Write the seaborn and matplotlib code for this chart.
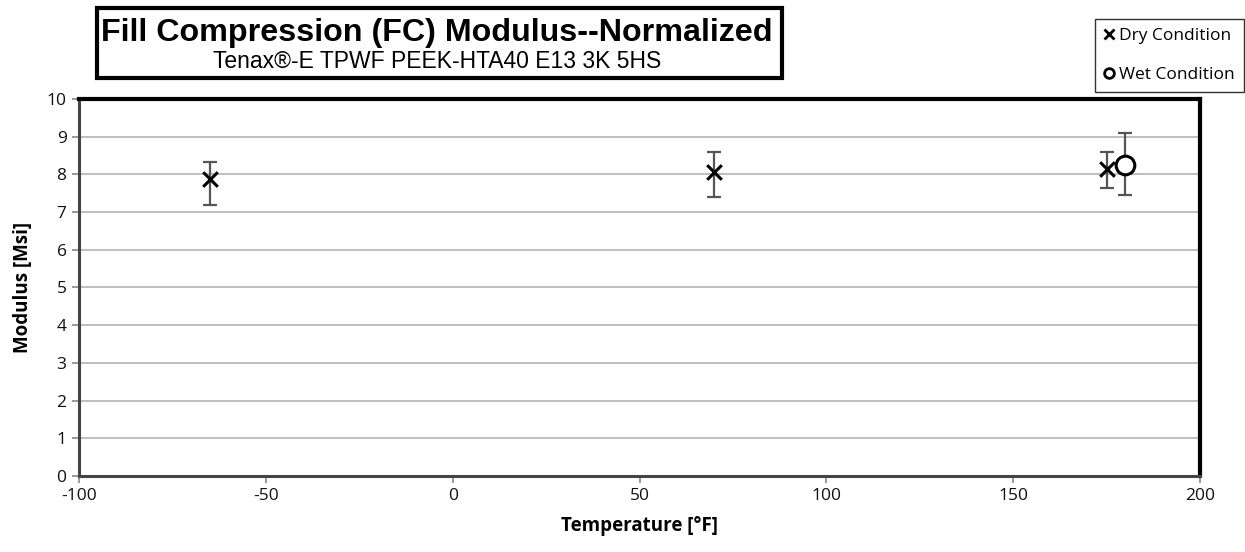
import matplotlib
matplotlib.use("Agg")
import matplotlib.pyplot as plt
import seaborn as sns
import pandas as pd
import numpy as np

# data
temps_dry = [-65, 70, 175]
mod_dry = [7.88, 8.07, 8.14]
dry_low = [7.19, 7.39, 7.65]
dry_high = [8.34, 8.60, 8.59]

temps_wet = [180]
mod_wet = [8.25]
wet_low = [7.45]
wet_high = [9.09]

x_ticks = [-100, -50, 0, 50, 100, 150, 200]
y_ticks = list(range(0, 11))

sns.set_theme(style='white')
plt.rcParams['font.family'] = ['Open Sans', 'DejaVu Sans']
plt.rcParams['axes.unicode_minus'] = False
plt.rcParams['text.color'] = 'black'
plt.rcParams['axes.labelcolor'] = 'black'

df = pd.concat([
    pd.DataFrame({'temp': temps_dry, 'mod': mod_dry, 'cond': 'Dry Condition'}),
    pd.DataFrame({'temp': temps_wet, 'mod': mod_wet, 'cond': 'Wet Condition'}),
])

fig = plt.figure(figsize=(12.45, 5.52), dpi=100)
ax = fig.add_axes([0.0635, 0.1377, 0.9005, 0.683])

for y in y_ticks[1:]:
    ax.axhline(y, color='#b4b4b4', lw=1.2, zorder=0)

# error bars (min/max)
err_dry = [np.array(mod_dry) - np.array(dry_low), np.array(dry_high) - np.array(mod_dry)]
err_wet = [np.array(mod_wet) - np.array(wet_low), np.array(wet_high) - np.array(mod_wet)]
ax.errorbar(temps_dry, mod_dry, yerr=err_dry, fmt='none', ecolor='#555555',
            elinewidth=1.6, capsize=5, capthick=1.6, zorder=2)
ax.errorbar(temps_wet, mod_wet, yerr=err_wet, fmt='none', ecolor='#555555',
            elinewidth=1.6, capsize=5, capthick=1.6, zorder=2)

sns.scatterplot(data=df[df.cond == 'Dry Condition'], x='temp', y='mod', marker='x',
                s=110, color='black', linewidth=2.2, ax=ax, zorder=3, legend=False)
sns.scatterplot(data=df[df.cond == 'Wet Condition'], x='temp', y='mod', marker='o',
                s=180, facecolor='white', edgecolor='black', linewidth=2.2, ax=ax,
                zorder=3, legend=False)

ax.set_xlim(-100, 200)
ax.set_ylim(0, 10)
ax.set_xticks(x_ticks)
ax.set_yticks(y_ticks)
ax.tick_params(axis='both', labelsize=12.5, labelcolor='#111111', length=5, width=1.2,
               direction='out', bottom=True, left=True, pad=4, color='#888888')

ax.set_xlabel('Temperature [°F]', fontsize=13.5, fontweight='bold', labelpad=8)
ax.set_ylabel('Modulus [Msi]', fontsize=13.5, fontweight='bold', labelpad=10)

for s in ['top', 'right']:
    ax.spines[s].set_color('black')
    ax.spines[s].set_linewidth(3)
for s in ['left', 'bottom']:
    ax.spines[s].set_color('#444444')
    ax.spines[s].set_linewidth(2.2)

# title box
fig.text(0.351, 0.94, 'Fill Compression (FC) Modulus--Normalized', ha='center', va='center',
         fontsize=23.2, fontweight='bold', family='Liberation Sans')
fig.text(0.351, 0.889, 'Tenax®-E TPWF PEEK-HTA40 E13 3K 5HS', ha='center', va='center',
         fontsize=16.5, family='Liberation Sans')
fig.patches.append(plt.Rectangle((0.078, 0.859), 0.55, 0.127, transform=fig.transFigure,
                                 fill=False, edgecolor='black', linewidth=3))

# legend
h_dry = plt.Line2D([], [], marker='x', color='black', ls='none', markersize=7, mew=2)
h_wet = plt.Line2D([], [], marker='o', color='black', mfc='white', ls='none', markersize=7, mew=2)
leg = fig.legend([h_dry, h_wet], ['Dry Condition', 'Wet Condition'], loc='upper right',
                 bbox_to_anchor=(0.999, 0.966), frameon=True, fancybox=False, fontsize=12.5,
                 handlelength=0.6, handletextpad=0.3, labelspacing=1.35, borderpad=0.5,
                 borderaxespad=0)
leg.get_frame().set_edgecolor('black')
leg.get_frame().set_linewidth(1)

fig.savefig('out.png', dpi=100)
